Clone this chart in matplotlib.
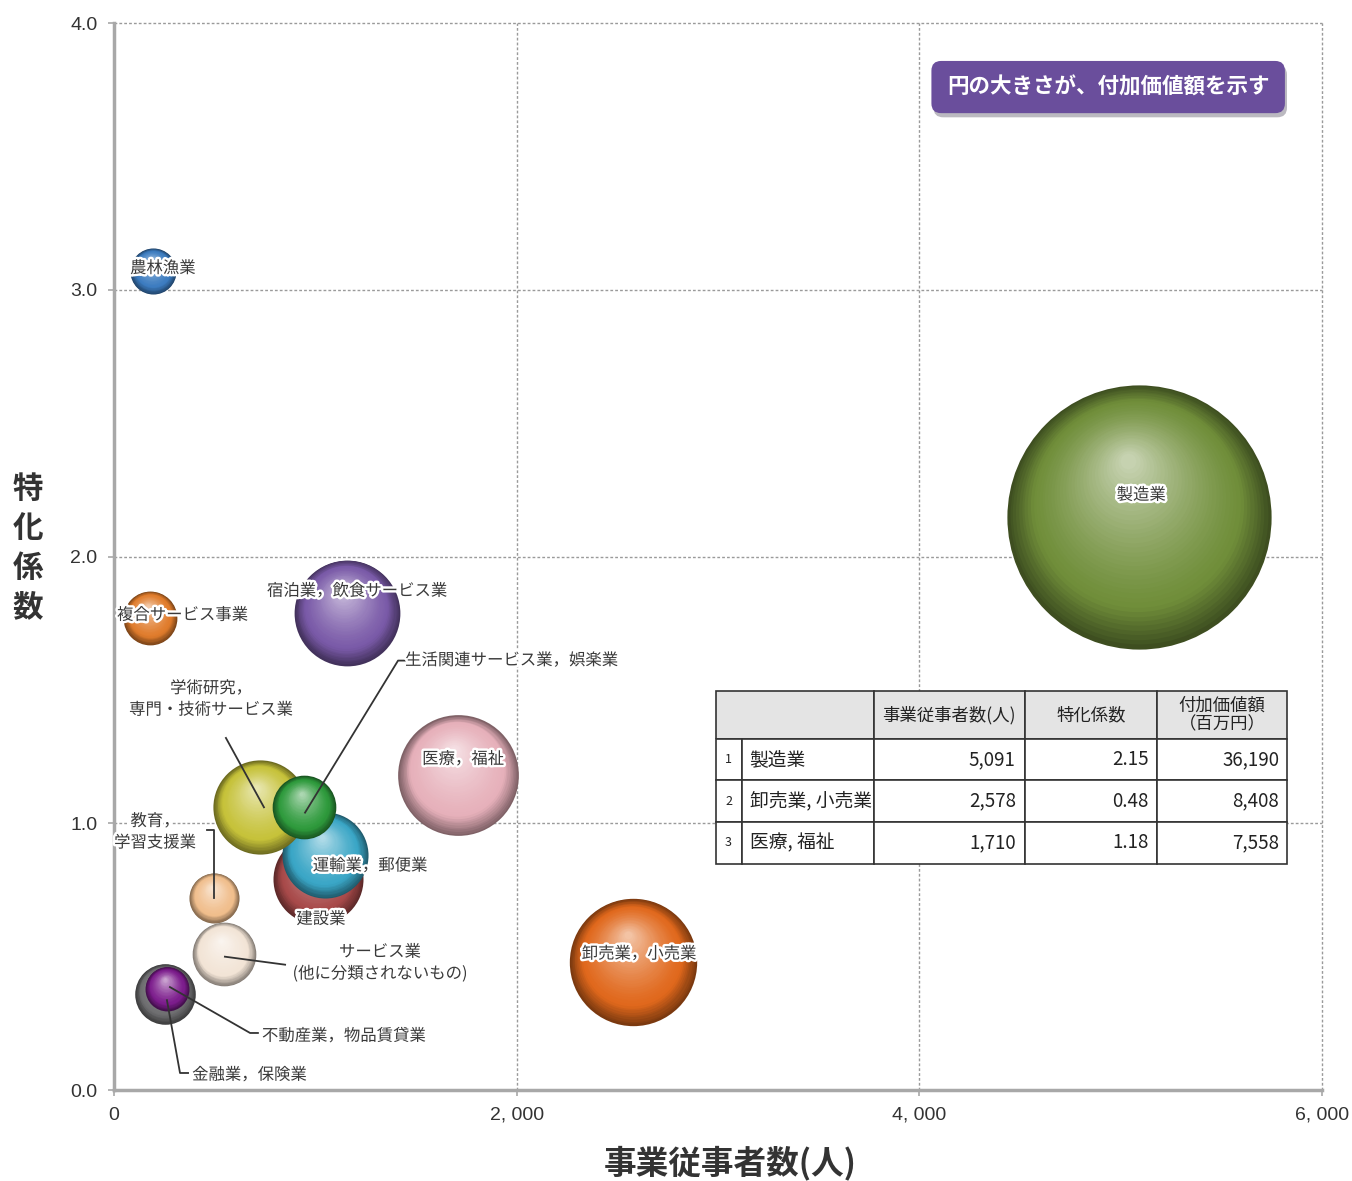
import numpy as np
import matplotlib
matplotlib.use("Agg")
import matplotlib.pyplot as plt
import matplotlib.patheffects as pe
from matplotlib.colors import to_rgb
from matplotlib.patches import Rectangle
from matplotlib.table import Table
from matplotlib.transforms import offset_copy

plt.rcParams['font.family'] = ['Noto Sans CJK JP', 'DejaVu Sans']

## Data (draw order = list order)
names = ["農林漁業", "複合サービス事業", "宿泊業，飲食サービス業", "医療，福祉", "製造業",
         "卸売業，小売業", "建設業", "運輸業，郵便業", "学術研究，\n専門・技術サービス業",
         "生活関連サービス業，娯楽業", "教育，\n学習支援業", "サービス業\n(他に分類されないもの)",
         "金融業，保険業", "不動産業，物品賃貸業"]
employees = [194, 179, 1157, 1710, 5091, 2578, 1013, 1048, 725, 944, 497, 546, 253, 263]
coef = [3.07, 1.77, 1.79, 1.18, 2.15, 0.48, 0.79, 0.88, 1.06, 1.06, 0.72, 0.51, 0.36, 0.38]
value_added = [1100, 1500, 5800, 7558, 36190, 8408, 4200, 3840, 4600, 2100, 1300, 2100, 1900, 1000]

colors = ["#3c7cc0", "#e07c2c", "#7a5aa8", "#e6b0ba", "#708e3a", "#e0681c", "#a84a4a",
          "#3aa6c6", "#c6c23a", "#2e9a3c", "#f0be8c", "#f2e4d6", "#6e6e70", "#7c1c8c"]

# label placement: (x, y, ha)
label_pos = [(80, 3.08, 'left'), (15, 1.78, 'left'), (760, 1.87, 'left'), (1734, 1.24, 'center'),
             (5102, 2.23, 'center'), (2608, 0.51, 'center'), (1028, 0.64, 'center'),
             (1272, 0.84, 'center'), (482, 1.465, 'center'), (1446, 1.61, 'left'),
             (204, 0.967, 'center'), (1321, 0.476, 'center'), (388, 0.056, 'left'),
             (735, 0.202, 'left')]

# leader lines
leaders = [
    ([949, 1411, 1446], [1.04, 1.61, 1.61]),
    ([556, 745], [1.32, 1.06]),
    ([462, 497, 497], [0.975, 0.975, 0.72]),
    ([551, 850], [0.50, 0.47]),
    ([278, 676, 715], [0.386, 0.214, 0.214]),
    ([263, 328, 368], [0.337, 0.064, 0.064]),
]

table_rows = [4, 5, 3]   # indices into the arrays above
table_short = ["製造業", "卸売業, 小売業", "医療, 福祉"]

fig = plt.figure(figsize=(13.52, 11.81), dpi=100)
ax = fig.add_axes([0.0843, 0.077, 0.8935, 0.9035])
ax.set_xlim(0, 6000)
ax.set_ylim(0, 4.0)


def mix(a, b, t):
    return tuple(a[i] + (b[i] - a[i]) * t for i in range(3))


N = 40
for i in range(len(names)):
    base = to_rgb(colors[i])
    dark = mix(base, (0, 0, 0), 0.45)
    light = mix(base, (1, 1, 1), 0.6)
    s = value_added[i] * 1.0
    r_pts = np.sqrt(s) / 2
    for k in range(N):
        t = k / (N - 1)
        if t < 0.22:
            col = mix(dark, base, t / 0.22)
        else:
            col = mix(base, light, ((t - 0.22) / 0.78) ** 1.3)
        f = 1 - 0.94 * t
        tr = offset_copy(ax.transData, fig=fig, x=-0.08 * t * r_pts, y=0.42 * t * r_pts, units='points')
        ax.scatter([employees[i]], [coef[i]], s=s * f * f, color=[col], linewidths=0,
                   transform=tr, zorder=2 + i * 0.05 + k * 0.001)

halo = [pe.withStroke(linewidth=3.5, foreground='white')]
for i in range(len(names)):
    x, y, ha = label_pos[i]
    ax.text(x, y, names[i], ha=ha, va='center', multialignment='center', fontsize=11.8,
            color='#3a3a3a', zorder=5, path_effects=halo, linespacing=1.35)

for lx, ly in leaders:
    ax.plot(lx, ly, color='#333333', lw=1.3, zorder=4.5)

# grid / spines
ax.set_xticks([0, 2000, 4000, 6000])
ax.set_xticklabels(["0", "2, 000", "4, 000", "6, 000"], family=['Liberation Sans'])
ax.set_yticks([0, 1, 2, 3, 4])
ax.set_yticklabels(["0.0", "1.0", "2.0", "3.0", "4.0"], family=['Liberation Sans'])
ax.grid(True, linestyle=(0, (2, 1.5)), color='#9a9a9a', lw=1.0, zorder=0)
for gl in ax.get_xgridlines() + ax.get_ygridlines():
    gl.set_clip_on(False)
ax.set_axisbelow(True)
for sp in ['top', 'right']:
    ax.spines[sp].set_visible(False)
for sp in ['left', 'bottom']:
    ax.spines[sp].set_color('#a8a8a8')
    ax.spines[sp].set_linewidth(2.5)
ax.tick_params(axis='both', colors='#a8a8a8', labelcolor='#333333', labelsize=14, length=4, width=1.2)
ax.tick_params(axis='x', pad=8)
ax.tick_params(axis='y', pad=8)

# note box
note = ax.text(0.823, 0.94, "円の大きさが、付加価値額を示す", transform=ax.transAxes, ha='center', va='center',
               fontsize=15.5, fontweight='bold', color='white', zorder=8,
               bbox=dict(boxstyle='round,pad=0.72,rounding_size=0.45', fc='#6a4e9c', ec='none'))
note.get_bbox_patch().set_path_effects([pe.SimplePatchShadow(offset=(1.5, -3), alpha=0.3), pe.Normal()])

# table
cells = [["", "", "事業従事者数(人)", "特化係数", "付加価値額\n（百万円）"]]
for n, j in enumerate(table_rows):
    cells.append([str(n + 1), table_short[n], f"{employees[j]:,}", f"{coef[j]:.2f}", f"{value_added[j]:,}"])
col_w = [26, 132, 151, 132, 130]
row_h = [48, 42, 42, 42]
tb = [0.498, 0.212, 0.473, 0.162]
tab = Table(ax, bbox=tb)
for r, row in enumerate(cells):
    for c, txt in enumerate(row):
        if r == 0:
            loc = 'center'
        elif c in (0, 1):
            loc = 'center' if c == 0 else 'left'
        else:
            loc = 'right'
        fc = 'white'
        if r == 0:
            fc = 'none' if c < 2 else '#e4e4e4'
        cell = tab.add_cell(r, c, width=col_w[c], height=row_h[r], text=txt, loc=loc,
                            facecolor=fc, edgecolor='#333333')
        cell.set_linewidth(1.2)
        cell.PAD = 0.06
        cell.get_text().set_fontsize(9 if (c == 0 and r > 0) else (12.5 if r == 0 else 13.5))
        cell.get_text().set_color('#222222')
        cell.get_text().set_linespacing(1.05)
tab[0, 0].visible_edges = 'BTL'
tab[0, 1].visible_edges = 'BTR'
tab.auto_set_font_size(False)
tab.set_zorder(10)
ax.add_table(tab)
hdr_w = tb[2] * (col_w[0] + col_w[1]) / sum(col_w)
hdr_h = tb[3] * row_h[0] / sum(row_h)
ax.add_patch(Rectangle((tb[0], tb[1] + tb[3] - hdr_h), hdr_w, hdr_h, transform=ax.transAxes,
                       facecolor='#e4e4e4', edgecolor='none', zorder=9.5))

fig.text(0.54, 0.0152, "事業従事者数(人)", ha='center', va='center', fontsize=23.5, fontweight='bold', color='#333333')
fig.text(0.0207, 0.536, "特\n化\n係\n数", ha='center', va='center', fontsize=22, fontweight='bold',
         color='#333333', linespacing=1.3)

fig.savefig("out.png", dpi=100)
